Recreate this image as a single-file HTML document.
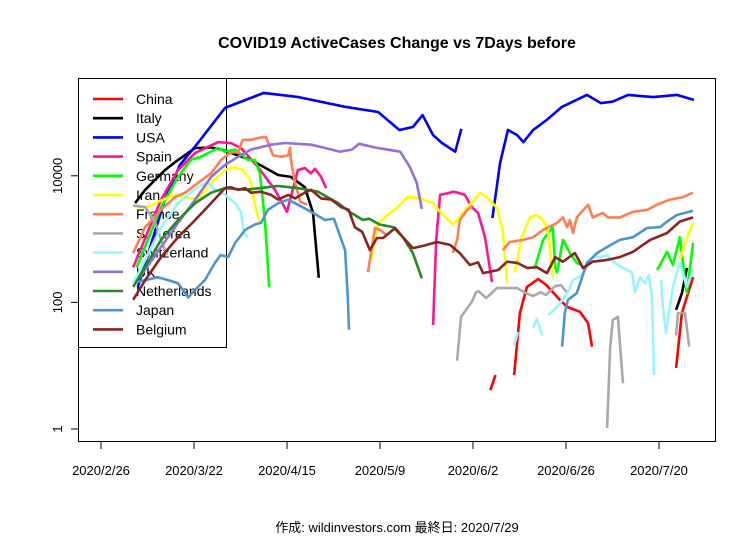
<!DOCTYPE html>
<html><head><meta charset="utf-8">
<style>
html,body{margin:0;padding:0;background:#fff;}
svg{display:block;font-family:"Liberation Sans","Noto Sans CJK JP",sans-serif;}
</style></head>
<body>
<svg id="chart" width="756" height="540" viewBox="0 0 756 540">
<rect x="0" y="0" width="756" height="540" fill="#fff"/>
<text x="397" y="48" text-anchor="middle" font-size="16" font-weight="bold">COVID19 ActiveCases Change vs 7Days before</text>
<text x="397" y="532" text-anchor="middle" font-size="13">作成: wildinvestors.com 最終日: 2020/7/29</text>
<g id="series-layer"></g>
<rect x="78.5" y="78.5" width="637" height="363" fill="none" stroke="#000" stroke-width="1"/>
<g id="axes"></g>
<g id="legend">
<rect x="78.5" y="78.5" width="148" height="269" fill="none" stroke="#000" stroke-width="1"/>
</g>
</svg>
<script>
// x-axis: day offsets from 2020/2/26
const xTickLabels = ["2020/2/26","2020/3/22","2020/4/15","2020/5/9","2020/6/2","2020/6/26","2020/7/20"];
const xTickDays = [0,24,48,72,96,120,144];
const yTickValues = [1,100,10000];
const yTickLabels = ["1","100","10000"];
const seriesNames = ["China","Italy","USA","Spain","Germany","Iran","France","S. Korea","Switzerland","UK","Netherlands","Japan","Belgium"];
const seriesColors = ["#ff0000","#000000","#0000ff","#ff1493","#00ff00","#ffff00","#ff7f50","#a9a9a9","#98f5ff","#9370db","#228b22","#4f94cd","#8b2323"];

const china = [[100.5,4.1],[101.8,7.1],null,[106.6,7.1],[108.1,68],[109.9,175],[112.8,234],[115,187],[118.4,110],[120.3,85],[123.6,71],[125.7,47],[126.7,20],null,[148.4,9.2],[149.9,68],[151.2,122],[152.8,252]];
const italy = [[8.8,3700],[11.4,6000],[16.5,12300],[19.9,17800],[24.3,27500],[28.4,28000],[31,26000],[38.7,17800],[45.7,10300],[49,9600],[52.6,6600],[54.7,2600],[56.2,245],null,[148.4,76],[149.9,140],[151.2,350]];
const usa = [[9.5,175],[16.5,4200],[20.4,15000],[25,33000],[32,118000],[42,204000],[51,175000],[63,123000],[71.5,102000],[77,53000],[80.5,59000],[83,91000],[85.7,44000],[88,33000],[91.4,24000],[93,55000],null,[101,2150],[103,16000],[105,53000],[107.4,44000],[109,34000],[111.5,53000],[115,76000],[119,123000],[125.4,190000],[129,141000],[132,148000],[136,190000],[142.5,175000],[148.6,190000],[153,158000]];
const spain = [[8.3,360],[15.5,4200],[19.9,12300],[24.3,23000],[30.2,34000],[33.5,33000],[36.1,27500],[40.5,13800],[44.9,6000],[48,2700],[50.8,12300],[52.6,13300],[54.2,11000],[55.2,12900],[56.8,9600],[58.1,6400],null,[85.7,44],[86.5,970],[87.5,5000],[90.1,5400],[90.8,5600],[92.1,5400],[93.9,5000],[95.7,3200],[97.3,2600],[99.1,1070],[100.9,210]];
const germany = [[9.2,360],[15.5,3200],[19.9,9600],[23.2,17800],[25.8,20000],[30.2,27500],[32,24000],[34.6,26000],[37.9,17800],[39.7,17800],[41,11000],[42.3,2000],[43.4,175],null,[112,360],[114.1,970],[116.6,1550],[117.2,360],[117.7,300],[119.2,970],[121,600],[122.8,420],[124.1,390],null,[143.5,325],[146.1,630],[147.6,390],[149.4,1070],[150.7,225],[151.2,140],[152,360],[152.8,870]];
const iran = [[8.8,3200],[12.1,3200],[14.7,3900],[19.1,5000],[21.7,4600],[25,4200],[28.4,7700],[32,12300],[34.6,13800],[36.6,12300],[38.5,8600],[40,2900],[41,1800],null,[69.7,470],[71.5,1800],[74,2400],[76.6,3200],[79.1,4600],[82.3,4400],[85.7,3700],[87.5,2700],[90.8,1700],[92.6,2200],[94.7,3200],[97.8,5400],[99.9,4400],[102.2,3100],[103.7,1400],[104.8,200],null,[106.8,300],[108.6,1070],[110.7,2200],[112.5,2400],[114.1,2000],[115.4,1250],[116.6,252],null,[149.4,470],[150.7,870],[152.8,1800]];
const france = [[8.3,600],[11.4,1550],[15.5,2900],[19.1,4600],[21.7,5400],[25,7700],[28.4,11000],[31,17800],[33.3,23000],[35.4,24000],[36.6,37000],[38.7,37000],[41,40000],[42.6,41000],[43.6,28000],[44.4,21000],[46.5,20000],[48.3,21000],[48.8,28000],[49,17800],[50.1,7700],[51.4,3900],[53.2,3500],null,[68.9,300],[70.7,1500],[72,1400],[73.8,1150],null,[90.8,600],[91.9,970],[92.6,2000],[94.5,2900],[96,3400],null,[103.7,670],[105.5,900],[108.9,970],[111.5,1070],[114.1,1400],[117.7,1800],[119.2,2200],[120.3,1550],[121,2000],[121.8,1250],[122.8,2200],[124.1,2700],[125.7,3500],[126.9,2200],[129.5,2600],[130.8,2200],[133.9,2200],[137.3,2700],[141,2900],[143.5,3500],[146.8,4200],[150.2,4600],[152.8,5400]];
const skorea = [[8.3,3400],[11.4,3200],[14,1800],[16,810],[17,560],null,[91.9,12],[92.9,59],[95.7,102],[96.8,145],[97.5,150],[99.4,117],[102.2,168],[107.4,168],[109.7,140],[111.5,126],[113.5,145],[114.8,131],[117.2,180],[118.7,187],[120.2,145],null,[130.6,1.04],[131.4,20],[132.1,53],[133.4,59],[134.7,5.3],null,[148.4,30],[148.9,68],[150.7,68],[151.8,20]];
const switzerland = [[8.3,200],[11.4,470],[15.5,1550],[19.9,3700],[23.2,5500],[25.8,7100],[27.6,7700],[29.4,6000],[32,5000],[34.6,3700],[36.1,2700],[36.9,1250],[37.9,1040],null,[106.6,21],[107.6,34],null,[111.5,39],[112.5,55],[113.8,30],null,[115.4,63],[117.7,85],[120.3,140],[121.8,225],[124.1,270],[125.4,360],[127,520],[128.8,520],[130.6,560],[132.1,440],[135.7,325],[137,300],[137.8,145],[139.1,250],[140.4,200],[141.4,270],[142.2,122],[142.7,7.1],null,[144.5,225],[145,85],[145.8,33],[146.8,85],[147.6,175],[149.4,420],[150.2,290],[151.2,175],[152.8,325]];
const uk = [[9.5,225],[15.5,750],[19.9,1800],[24.3,4200],[28.4,9600],[32,14800],[35.4,20000],[38.7,26000],[43.9,31000],[47.5,33000],[54.2,31000],[57.3,28000],[61.7,24000],[64.8,26000],[66.6,32000],[70.7,28000],[77.2,24000],[79.7,13800],[81.5,7700],[82.8,3000]];
const netherlands = [[8.3,175],[15.5,970],[19.9,2000],[24.3,3700],[28.4,5400],[32,6400],[37.2,6000],[43.1,6600],[45.7,6900],[50.8,6400],[56,5600],[61.2,3700],[64.5,2600],[67.6,2000],[69.2,2100],[71.9,1700],[75.4,1550],[77.9,1070],[80.5,600],[82.8,240]];
const japan = [[9.5,210],[11.4,225],[14.7,250],[17.3,225],[19.9,200],[22.5,120],[25,175],[26.8,225],[29.4,420],[30.9,560],[32.8,520],[34.6,870],[37.2,1400],[39.7,1700],[41.3,1800],[43.1,2900],[45.7,3700],[48.3,4200],[50.8,3500],[54.2,2700],[57.8,2000],[60.1,2100],[63,670],[63.7,120],[64,37],null,[119,20],[119.7,68],[120.5,110],[122.8,140],[125.4,420],[128,600],[130.6,750],[133.9,970],[137.3,1070],[140.9,1500],[144.3,1550],[146.1,1900],[148.6,2400],[152.8,2800]];
const belgium = [[8.3,110],[11.4,225],[15.5,520],[19.9,1070],[24.3,2000],[28.4,3700],[32,6400],[33.5,6600],[35.4,6000],[37.2,6400],[38.7,5400],[41.3,5600],[43.9,5000],[45.7,4200],[48.3,5000],[50.1,4400],[52.6,5400],[54.2,6000],[56.8,4400],[59.4,4200],[62,3200],[63.9,2900],[65.5,1550],[67.4,1300],[69.4,670],[71.2,1040],[72.8,1040],[75.9,1500],[77.9,1070],[80.5,720],[83.1,780],[86.7,900],[90.1,810],[92.6,600],[95.2,390],[97.3,430],[98.6,290],[102.5,325],[104.8,440],[107.4,420],[110,350],[112.5,360],[115.1,290],[117.2,520],[119.2,440],[122.3,600],[124.4,350],[126.9,440],[130.6,470],[133.9,520],[137.3,630],[141.7,970],[146.1,1250],[149.4,1900],[152.8,2200]];

const allSeries = [china,italy,usa,spain,germany,iran,france,skorea,switzerland,uk,netherlands,japan,belgium];

const NS = "http://www.w3.org/2000/svg";
const x0 = 101, pxPerDay = 3.875;
function xScale(d){ return x0 + pxPerDay*d; }
function yScale(v){ return 429 - 63.3*Math.log10(v); }

const layer = document.getElementById('series-layer');
allSeries.forEach(function(s, i){
  let d = "", pen = false;
  s.forEach(function(p){
    if(p === null){ pen = false; return; }
    d += (pen ? "L" : "M") + xScale(p[0]).toFixed(1) + "," + yScale(p[1]).toFixed(1);
    pen = true;
  });
  const path = document.createElementNS(NS, "path");
  path.setAttribute("d", d);
  path.setAttribute("fill", "none");
  path.setAttribute("stroke", seriesColors[i]);
  path.setAttribute("stroke-width", "2.6");
  path.setAttribute("stroke-linejoin", "round");
  
  
  layer.appendChild(path);
});

const axes = document.getElementById('axes');
xTickDays.forEach(function(dd, i){
  const x = xScale(dd);
  const t = document.createElementNS(NS, "line");
  t.setAttribute("x1", x); t.setAttribute("x2", x);
  t.setAttribute("y1", 442); t.setAttribute("y2", 449);
  t.setAttribute("stroke", "#000");
  
  
  axes.appendChild(t);
  const lb = document.createElementNS(NS, "text");
  lb.setAttribute("x", x); lb.setAttribute("y", 475);
  lb.setAttribute("text-anchor", "middle");
  lb.setAttribute("font-size", "13");
  lb.textContent = xTickLabels[i];
  
  
  axes.appendChild(lb);
});
yTickValues.forEach(function(v, i){
  const y = yScale(v);
  const t = document.createElementNS(NS, "line");
  t.setAttribute("x1", 71); t.setAttribute("x2", 78);
  t.setAttribute("y1", y); t.setAttribute("y2", y);
  t.setAttribute("stroke", "#000");
  
  
  axes.appendChild(t);
  const lb = document.createElementNS(NS, "text");
  lb.setAttribute("x", 62); lb.setAttribute("y", y);
  lb.setAttribute("text-anchor", "middle");
  lb.setAttribute("font-size", "13");
  lb.setAttribute("transform", "rotate(-90 62 " + y + ")");
  lb.textContent = yTickLabels[i];
  
  
  axes.appendChild(lb);
});

const legend = document.getElementById('legend');
seriesNames.forEach(function(n, i){
  const y = 99 + 19.2*i;
  const ln = document.createElementNS(NS, "line");
  ln.setAttribute("x1", 93); ln.setAttribute("x2", 123);
  ln.setAttribute("y1", y); ln.setAttribute("y2", y);
  ln.setAttribute("stroke", seriesColors[i]);
  ln.setAttribute("stroke-width", "2.6");
  
  
  legend.appendChild(ln);
  const tx = document.createElementNS(NS, "text");
  tx.setAttribute("x", 136); tx.setAttribute("y", y + 5);
  tx.setAttribute("font-size", "14");
  tx.textContent = n;
  
  
  legend.appendChild(tx);
});
// series drawn above legend text, as in reference
document.getElementById('chart').appendChild(layer);
</script>
</body></html>
